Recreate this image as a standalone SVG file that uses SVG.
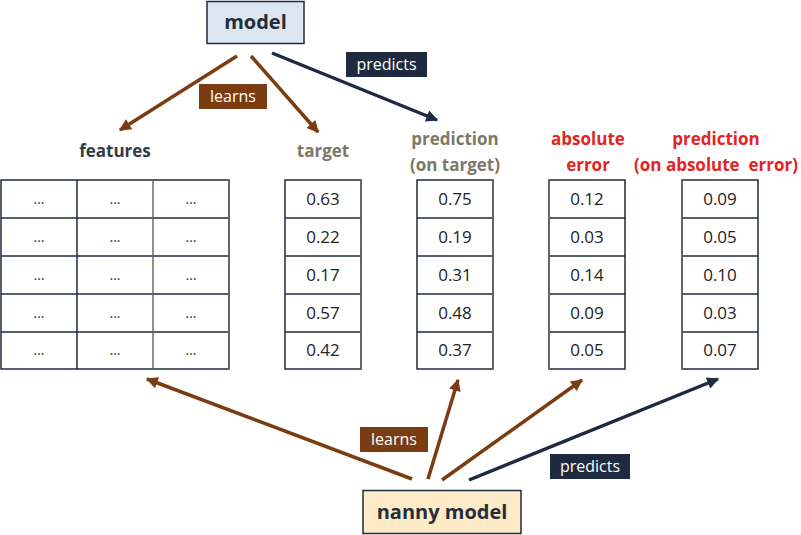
<svg xmlns="http://www.w3.org/2000/svg" width="801" height="535" viewBox="0 0 801 535">
<style>
.hdr{font-family:"Open Sans","Liberation Sans",sans-serif;font-weight:700;font-size:17px;text-anchor:middle}
.dark{fill:#333b47}
.olive{fill:#7c7866}
.red{fill:#e3241f}
.cell{font-family:"Open Sans","Liberation Sans",sans-serif;font-size:17px;fill:#222;text-anchor:middle}
.dots{font-family:"Open Sans","Liberation Sans",sans-serif;font-size:14px;fill:#333;text-anchor:middle}
.grid{fill:#fff;stroke:#1f2a3c;stroke-width:1.5}
.gl{stroke:#1f2a3c;stroke-width:1.5}
.gv{stroke:#6b6a5c;stroke-width:1.5}
.box{font-family:"Open Sans","Liberation Sans",sans-serif;font-weight:700;font-size:20px;fill:#262d3a;text-anchor:middle}
.lbl{font-family:"Open Sans","Liberation Sans",sans-serif;font-size:16px;fill:#fff;text-anchor:middle}
.brown{stroke:#7b3c12;stroke-width:3.5;fill:none}
.navy{stroke:#1f2a40;stroke-width:3.5;fill:none}
</style>
<defs>
<marker id="ab" viewBox="0 0 10 10" refX="9" refY="5" markerWidth="4" markerHeight="3.4" orient="auto" markerUnits="strokeWidth"><path d="M0,0 L10,5 L0,10 z" fill="#7b3c12"/></marker>
<marker id="an" viewBox="0 0 10 10" refX="9" refY="5" markerWidth="4" markerHeight="3.4" orient="auto" markerUnits="strokeWidth"><path d="M0,0 L10,5 L0,10 z" fill="#1f2a40"/></marker>
</defs>
<rect width="801" height="535" fill="#fff"/>

<g id="model">
<rect x="207" y="1.5" width="97" height="42" fill="#dce6f1" stroke="#1f2a3c" stroke-width="1.5"/>
<text class="box" x="255.5" y="29">model</text>
</g>

<g id="nanny-model">
<rect x="363" y="490.5" width="158" height="43" fill="#fdebc8" stroke="#1f2a3c" stroke-width="1.5"/>
<text class="box" x="442" y="519">nanny model</text>
</g>

<g id="features">
<text class="hdr dark" x="115" y="157">features</text>
<rect class="grid" x="1" y="180" width="228" height="189"/>
<line class="gl" x1="1" y1="218" x2="229" y2="218"/>
<line class="gl" x1="1" y1="256" x2="229" y2="256"/>
<line class="gl" x1="1" y1="294" x2="229" y2="294"/>
<line class="gl" x1="1" y1="332" x2="229" y2="332"/>
<line class="gl" x1="77" y1="180" x2="77" y2="369"/>
<line class="gv" x1="153" y1="180" x2="153" y2="369"/>
<line class="gv" x1="229" y1="180" x2="229" y2="369"/>
<text class="dots" x="39" y="204">...</text><text class="dots" x="115" y="204">...</text><text class="dots" x="191" y="204">...</text>
<text class="dots" x="39" y="242">...</text><text class="dots" x="115" y="242">...</text><text class="dots" x="191" y="242">...</text>
<text class="dots" x="39" y="280">...</text><text class="dots" x="115" y="280">...</text><text class="dots" x="191" y="280">...</text>
<text class="dots" x="39" y="318">...</text><text class="dots" x="115" y="318">...</text><text class="dots" x="191" y="318">...</text>
<text class="dots" x="39" y="355">...</text><text class="dots" x="115" y="355">...</text><text class="dots" x="191" y="355">...</text>
</g>

<g id="target">
<text class="hdr olive" x="323" y="157">target</text>
<rect class="grid" x="285" y="180" width="76" height="189"/>
<line class="gl" x1="285" y1="218" x2="361" y2="218"/>
<line class="gl" x1="285" y1="256" x2="361" y2="256"/>
<line class="gl" x1="285" y1="294" x2="361" y2="294"/>
<line class="gl" x1="285" y1="332" x2="361" y2="332"/>
<line class="gv" x1="361" y1="180" x2="361" y2="369"/>
<text class="cell" x="323" y="205">0.63</text>
<text class="cell" x="323" y="243">0.22</text>
<text class="cell" x="323" y="281">0.17</text>
<text class="cell" x="323" y="319">0.57</text>
<text class="cell" x="323" y="356">0.42</text>
</g>

<g id="prediction">
<text class="hdr olive" x="455" y="145">prediction</text>
<text class="hdr olive" x="455" y="171">(on target)</text>
<rect class="grid" x="417" y="180" width="76" height="189"/>
<line class="gl" x1="417" y1="218" x2="493" y2="218"/>
<line class="gl" x1="417" y1="256" x2="493" y2="256"/>
<line class="gl" x1="417" y1="294" x2="493" y2="294"/>
<line class="gl" x1="417" y1="332" x2="493" y2="332"/>
<line class="gv" x1="493" y1="180" x2="493" y2="369"/>
<text class="cell" x="455" y="205">0.75</text>
<text class="cell" x="455" y="243">0.19</text>
<text class="cell" x="455" y="281">0.31</text>
<text class="cell" x="455" y="319">0.48</text>
<text class="cell" x="455" y="356">0.37</text>
</g>

<g id="absolute-error">
<text class="hdr red" x="588" y="145">absolute</text>
<text class="hdr red" x="588" y="171">error</text>
<rect class="grid" x="549" y="180" width="76" height="189"/>
<line class="gl" x1="549" y1="218" x2="625" y2="218"/>
<line class="gl" x1="549" y1="256" x2="625" y2="256"/>
<line class="gl" x1="549" y1="294" x2="625" y2="294"/>
<line class="gl" x1="549" y1="332" x2="625" y2="332"/>
<line class="gv" x1="549" y1="180" x2="549" y2="369"/>
<text class="cell" x="587" y="205">0.12</text>
<text class="cell" x="587" y="243">0.03</text>
<text class="cell" x="587" y="281">0.14</text>
<text class="cell" x="587" y="319">0.09</text>
<text class="cell" x="587" y="356">0.05</text>
</g>

<g id="prediction-absolute-error">
<text class="hdr red" x="716" y="145">prediction</text>
<text class="hdr red" x="716" y="171" xml:space="preserve">(on absolute  error)</text>
<rect class="grid" x="682" y="180" width="76" height="189"/>
<line class="gl" x1="682" y1="218" x2="758" y2="218"/>
<line class="gl" x1="682" y1="256" x2="758" y2="256"/>
<line class="gl" x1="682" y1="294" x2="758" y2="294"/>
<line class="gl" x1="682" y1="332" x2="758" y2="332"/>
<line class="gv" x1="682" y1="180" x2="682" y2="369"/>
<text class="cell" x="720" y="205">0.09</text>
<text class="cell" x="720" y="243">0.05</text>
<text class="cell" x="720" y="281">0.10</text>
<text class="cell" x="720" y="319">0.03</text>
<text class="cell" x="720" y="356">0.07</text>
</g>

<g id="connectors">
<line class="brown" x1="237" y1="56" x2="120" y2="130" marker-end="url(#ab)"/>
<line class="brown" x1="251" y1="56" x2="318" y2="132" marker-end="url(#ab)"/>
<line class="navy" x1="272" y1="53" x2="437" y2="120" marker-end="url(#an)"/>
<rect x="199" y="84" width="68" height="25" fill="#7b3c12"/>
<text class="lbl" x="233" y="102">learns</text>
<rect x="346" y="52" width="81" height="25" fill="#1e2a3e"/>
<text class="lbl" x="386.5" y="70">predicts</text>

<line class="brown" x1="412" y1="479" x2="147" y2="379" marker-end="url(#ab)"/>
<line class="brown" x1="428" y1="479" x2="458" y2="380" marker-end="url(#ab)"/>
<line class="brown" x1="442" y1="480" x2="582" y2="380" marker-end="url(#ab)"/>
<line class="navy" x1="469" y1="480" x2="718" y2="379" marker-end="url(#an)"/>
<rect x="360" y="427" width="68" height="25" fill="#7b3c12"/>
<text class="lbl" x="394" y="445">learns</text>
<rect x="550" y="454" width="80" height="25" fill="#1e2a3e"/>
<text class="lbl" x="590" y="472">predicts</text>
</g>
</svg>
